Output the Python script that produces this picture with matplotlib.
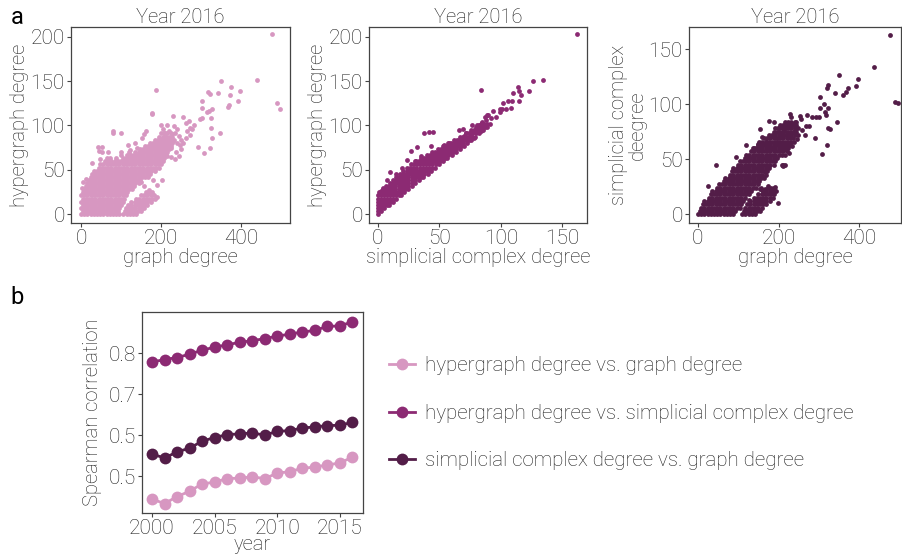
"""Degree comparison figure: three scatter panels (2016) + Spearman correlation over years."""

import matplotlib

matplotlib.use("Agg")

import matplotlib.pyplot as plt  # noqa: E402
from matplotlib.lines import Line2D  # noqa: E402

plt.rcParams["font.family"] = ["Roboto", "DejaVu Sans"]
plt.rcParams["font.weight"] = "light"

PINK = "#d797c1"
PLUM = "#8c2a73"
DARK = "#531d48"
GREY = "#444444"
TEXT = "#1e1e1e"

# ---- panel b data -------------------------------------------------------
years = list(range(2000, 2017))
rho_hyper_graph = [0.444, 0.433, 0.450, 0.463, 0.481, 0.485, 0.494, 0.495, 0.498, 0.494,
                   0.507, 0.511, 0.519, 0.522, 0.527, 0.532, 0.546]
rho_hyper_simp = [0.778, 0.784, 0.789, 0.797, 0.807, 0.814, 0.820, 0.826, 0.830, 0.835,
                  0.841, 0.846, 0.851, 0.855, 0.865, 0.866, 0.876]
rho_simp_graph = [0.554, 0.544, 0.559, 0.568, 0.585, 0.594, 0.601, 0.603, 0.605, 0.600,
                  0.609, 0.611, 0.617, 0.620, 0.623, 0.624, 0.631]
b_ticks = [0.5, 0.6, 0.7, 0.8]
b_ticklabels = ["0.5", "0.5", "0.7", "0.8"]

# ---- panel a, left: graph degree (x) vs hypergraph degree (y) ----------
hg_core_rows = [
    (0, [0, 8, 16, 24, 32, 40, 48, 56, 64, 72, 80, 88, 94]),
    (3.5, [4, 12, 20, 28, 36, 44, 52, 60, 68, 76, 84, 92]),
    (7, [0, 8, 16, 24, 32, 40, 48, 56, 64, 72, 80, 88, 96]),
    (10.5, [4, 12, 20, 28, 36, 44, 52, 60, 68, 76, 84, 92, 100]),
    (14, [0, 8, 16, 24, 32, 40, 48, 56, 64, 72, 80, 88, 96, 104]),
    (17.5, [4, 12, 20, 28, 36, 44, 52, 60, 68, 76, 84, 92, 100, 108]),
    (21, [0, 8, 16, 24, 32, 40, 48, 56, 64, 72, 80, 88, 96, 104, 112]),
    (24.5, [4, 12, 20, 28, 36, 44, 52, 60, 68, 76, 84, 92, 100, 108, 116]),
    (28, [8, 16, 24, 32, 40, 48, 56, 64, 72, 80, 88, 96, 104, 112, 120, 128]),
    (31.5, [12, 20, 28, 36, 44, 52, 60, 68, 76, 84, 92, 100, 108, 116, 124, 132]),
    (35, [16, 24, 32, 40, 48, 56, 64, 72, 80, 88, 96, 104, 112, 120, 128, 136, 144]),
    (38.5, [20, 28, 36, 44, 52, 60, 68, 76, 84, 92, 100, 108, 116, 124, 132, 140, 148]),
    (42, [24, 32, 40, 48, 56, 64, 72, 80, 88, 96, 104, 112, 120, 128, 136, 144, 152, 160]),
    (45.5, [28, 36, 44, 52, 60, 68, 76, 84, 92, 100, 108, 116, 124, 132, 140, 148, 156, 164, 172]),
    (49, [32, 40, 48, 56, 64, 72, 80, 88, 96, 104, 112, 120, 128, 136, 144, 152, 160, 168, 176, 184]),
    (52.5, [44, 52, 60, 68, 76, 84, 92, 100, 108, 116, 124, 132, 140, 148, 156, 164, 172, 180, 188, 196]),
    (56, [48, 56, 64, 72, 80, 88, 96, 104, 112, 120, 128, 136, 144, 152, 160, 168, 176, 184, 192, 200]),
    (59.5, [60, 68, 76, 84, 92, 100, 108, 116, 124, 132, 140, 148, 156, 164, 172, 180, 188, 196, 204]),
    (63, [72, 88, 104, 112, 120, 128, 136, 144, 152, 160, 168, 176, 184, 192, 200, 208]),
    (66.5, [100, 116, 124, 132, 140, 148, 156, 164, 172, 180, 188, 196, 204, 212]),
    (70, [120, 136, 144, 152, 160, 168, 176, 184, 192, 200, 208, 216]),
    (73.5, [148, 156, 164, 172, 180, 188, 196, 204, 212, 220]),
    (77, [160, 168, 176, 184, 192, 200, 208, 216, 224]),
    (80.5, [172, 180, 188, 196, 204, 212, 220, 228]),
    (84, [184, 192, 200, 208, 216, 224, 232]),
    (87.5, [196, 204, 212, 220, 228]),
    (91, [200, 208, 216, 224]),
    # lower cluster
    (0, [106, 114, 122, 130, 138]),
    (3.5, [110, 118, 126, 134, 142, 150]),
    (7, [112, 120, 128, 136, 144, 152, 158]),
    (10.5, [118, 126, 134, 142, 150, 158, 166]),
    (14, [126, 134, 142, 150, 158, 166, 174]),
    (17.5, [138, 146, 154, 162, 170, 178, 184]),
    (21, [150, 158, 166, 174, 182]),
    (24.5, [162, 170, 178]),
]
hg_extra = [
    (43, 76), (53, 76), (81, 91), (81, 94), (99, 92), (45, 71), (52, 70), (68, 70), (27, 58),
    (48, 62), (65, 63), (118, 78), (122, 72), (152, 86), (157, 90), (162, 94), (177, 113),
    (187, 140), (185, 79), (177, 77), (191, 19), (202, 39), (181, 39), (171, 27), (177, 23),
    (150, 36), (158, 32), (168, 42), (190, 33), (2, 30), (6, 36), (12, 40), (100, 70),
    (135, 80), (140, 74), (476, 203), (439, 151), (489, 125), (498, 118), (350, 150),
    (374, 143), (397, 139), (372, 134), (318, 138), (322, 136), (342, 137), (391, 128),
    (370, 123), (367, 121), (303, 127), (303, 120), (327, 118), (320, 116), (314, 115),
    (177, 114), (229, 111), (256, 109), (270, 105), (262, 103), (282, 101), (296, 107),
    (303, 108), (325, 108), (272, 97), (277, 96), (264, 94), (325, 97), (346, 91), (328, 86),
    (273, 89), (291, 76), (321, 75), (308, 69), (251, 73), (200, 100), (206, 96), (215, 100),
    (232, 99), (240, 96), (236, 92), (228, 90), (222, 86), (230, 82), (218, 80), (212, 76),
    (206, 72), (196, 78), (204, 84), (244, 88), (250, 84), (248, 78), (226, 74), (238, 70),
    (210, 92), (220, 94), (196, 70), (190, 66), (216, 66), (226, 64), (234, 62), (244, 66),
    (256, 80), (262, 86), (240, 80),
]

# ---- panel a, middle: simplicial degree (x) vs hypergraph degree (y) ----
hs_core_rows = [
    (0, [0]),
    (3.5, [0, 2.5]),
    (7, [0, 2.5, 5]),
    (10.5, [0, 2.5, 5, 7.5, 9]),
    (14, [0, 2.5, 5, 7.5, 10, 12.5]),
    (17.5, [0, 2.5, 5, 7.5, 10, 12.5, 15]),
    (21, [0, 2.5, 5, 7.5, 10, 12.5, 15, 17.5, 19]),
    (24.5, [1.5, 4, 6.5, 9, 11.5, 14, 16.5, 19, 21.5]),
    (28, [4.5, 7, 9.5, 12, 14.5, 17, 19.5, 22, 24.5]),
    (31.5, [7, 9.5, 12, 14.5, 17, 19.5, 22, 24.5, 27.5]),
    (35, [10, 12.5, 15, 17.5, 20, 22.5, 25, 27.5, 30.5]),
    (38.5, [12.5, 15, 17.5, 20, 22.5, 25, 27.5, 30, 33.5]),
    (42, [15, 17.5, 20, 22.5, 25, 27.5, 30, 32.5, 35, 37]),
    (45.5, [18, 20.5, 23, 25.5, 28, 30.5, 33, 35.5, 38, 40.5]),
    (49, [21, 23.5, 26, 28.5, 31, 33.5, 36, 38.5, 41, 43.5]),
    (52.5, [24, 26.5, 29, 31.5, 34, 36.5, 39, 41.5, 44, 46.5]),
    (56, [27, 29.5, 32, 34.5, 37, 39.5, 42, 44.5, 47, 49.5]),
    (59.5, [31, 33.5, 36, 38.5, 41, 43.5, 46, 48.5, 51, 53]),
    (63, [35, 37.5, 40, 42.5, 45, 47.5, 50, 52.5, 55, 56.5]),
    (66.5, [40, 42.5, 45, 47.5, 50, 52.5, 55, 57.5, 60]),
    (70, [44, 46.5, 49, 51.5, 54, 56.5, 59, 61.5, 63.5]),
    (73.5, [49, 51.5, 54, 56.5, 59, 61.5, 64, 66.5]),
    (77, [53, 55.5, 58, 60.5, 63, 65.5, 68, 70]),
    (80.5, [57, 59.5, 62, 64.5, 67, 69.5, 72.5]),
    (84, [62, 64.5, 67, 69.5, 72, 74.5, 76]),
    (87.5, [67, 69.5, 72, 74.5, 77, 79]),
    (91, [72, 74.5, 77, 79.5, 82]),
    (94.5, [76, 78.5, 81, 83.5, 85.5]),
    (98, [80, 82.5, 85, 87.5, 89]),
    (101.5, [84, 86.5, 89, 91.5]),
]
hs_extra = [
    (162, 203), (84, 140), (134, 151), (126, 150), (123, 139), (114, 143), (110, 137),
    (115, 139), (116, 134), (115, 128), (109, 127), (106, 127), (102, 125), (101, 119),
    (99, 118), (99, 115), (94, 116), (85, 104), (87, 110), (90, 112), (88, 106), (75, 90),
    (78, 86), (80, 96), (82, 100), (84, 94), (77, 100), (72, 92), (70, 88), (38, 92), (42, 93),
    (45, 93), (27, 71), (32, 76), (10, 47), (4, 29), (24, 61), (43, 77), (54, 78), (58, 80),
    (66, 95), (69, 96), (76, 89), (81, 101), (78, 93), (85, 103), (89, 112), (92, 108),
    (62, 80), (66, 84), (50, 70), (30, 60), (20, 52), (15, 45), (35, 66), (8, 38), (3, 26),
    (96, 110), (104, 118), (108, 120),
]

# ---- panel a, right: graph degree (x) vs simplicial degree (y) ---------
sg_core_rows = [
    (0, [0, 8, 16, 24, 32, 40, 48, 56, 64, 72, 80, 88]),
    (3, [4, 12, 20, 28, 36, 44, 52, 60, 68, 76, 84, 92]),
    (6, [8, 16, 24, 32, 40, 48, 56, 64, 72, 80, 88, 96, 104]),
    (9, [12, 20, 28, 36, 44, 52, 60, 68, 76, 84, 92, 100, 108]),
    (12, [16, 24, 32, 40, 48, 56, 64, 72, 80, 88, 96, 104, 112]),
    (15, [28, 36, 44, 52, 60, 68, 76, 84, 92, 100, 108, 116]),
    (18, [32, 40, 48, 56, 64, 72, 80, 88, 96, 104, 112, 120, 128]),
    (21, [36, 44, 52, 60, 68, 76, 84, 92, 100, 108, 116, 124, 132]),
    (24, [48, 56, 64, 72, 80, 88, 96, 104, 112, 120, 128, 136, 144]),
    (27, [52, 60, 68, 76, 84, 92, 100, 108, 116, 124, 132, 140, 148]),
    (30, [64, 72, 80, 88, 96, 104, 112, 120, 128, 136, 144, 152]),
    (33, [68, 76, 84, 92, 100, 108, 116, 124, 132, 140, 148, 156, 164]),
    (36, [80, 88, 96, 104, 112, 120, 128, 136, 144, 152, 160, 168]),
    (39, [84, 92, 100, 108, 116, 124, 132, 140, 148, 156, 164, 172]),
    (42, [88, 96, 104, 112, 120, 128, 136, 144, 152, 160, 168, 176]),
    (45, [100, 108, 116, 124, 132, 140, 148, 156, 164, 172, 180, 188]),
    (48, [104, 112, 120, 128, 136, 144, 152, 160, 168, 176, 184, 192]),
    (51, [116, 124, 132, 140, 148, 156, 164, 172, 180, 188, 196]),
    (54, [120, 128, 136, 144, 152, 160, 168, 176, 184, 192, 200, 208]),
    (57, [132, 140, 148, 156, 164, 172, 180, 188, 196, 204, 212, 220]),
    (60, [136, 144, 152, 160, 168, 176, 184, 192, 200, 208, 216, 224]),
    (63, [148, 156, 164, 172, 180, 188, 196, 204, 212, 220, 228]),
    (66, [152, 160, 168, 176, 184, 192, 200, 208, 216, 224, 232]),
    (69, [164, 172, 180, 188, 196, 204, 212, 220, 228, 236]),
    (72, [176, 184, 192, 200, 208, 216, 224, 232, 240]),
    (75, [188, 196, 204, 212, 220, 228, 236, 244]),
    (78, [192, 200, 208, 216, 224, 232, 240, 248]),
    (81, [204, 212, 220, 228, 236, 244]),
    (84, [216, 224, 232, 240]),
    # lower cluster
    (0, [110, 118, 126, 134, 142]),
    (3, [114, 122, 130, 138, 146, 154]),
    (6, [118, 126, 134, 142, 150, 158]),
    (9, [122, 130, 138, 146, 154, 162, 170]),
    (12, [130, 138, 146, 154, 162, 170, 178]),
    (15, [138, 146, 154, 162, 170, 178, 186]),
    (18, [150, 158, 166, 174, 182, 190]),
    (21, [162, 170, 178, 186, 194]),
    (24, [174, 182, 190]),
]
sg_extra = [
    (157, 24), (166, 23), (174, 26), (191, 25), (199, 10), (128, 13), (211, 45), (216, 45),
    (166, 38), (162, 34), (153, 23), (159, 22), (46, 45), (25, 26), (120, 63), (95, 52),
    (177, 85), (189, 84), (153, 77), (230, 88), (477, 163), (438, 134), (488, 102), (496, 101),
    (350, 126), (397, 123), (393, 116), (373, 115), (367, 111), (361, 108), (341, 110),
    (324, 117), (320, 115), (302, 106), (314, 100), (302, 96), (322, 96), (316, 93), (318, 90),
    (346, 84), (324, 78), (328, 77), (291, 69), (321, 63), (308, 55), (229, 91), (254, 89),
    (270, 90), (284, 88), (294, 88), (301, 88), (222, 80), (234, 82), (244, 84), (256, 86),
    (268, 80), (248, 72), (238, 66), (218, 62), (212, 58), (216, 54), (226, 56), (234, 62),
    (246, 68), (208, 45), (212, 44), (230, 74), (240, 76), (258, 76), (266, 72), (276, 80),
    (186, 60), (196, 66), (204, 70), (214, 76), (198, 78), (180, 70), (170, 66), (150, 64),
    (140, 60), (160, 70),
]


def collect(rows, extra):
    xs = [x for y, row in rows for x in row] + [p[0] for p in extra]
    ys = [y for y, row in rows for _ in row] + [p[1] for p in extra]
    return xs, ys


def style_axes(ax):
    for sp in ax.spines.values():
        sp.set_color(GREY)
        sp.set_linewidth(0.9)
    ax.tick_params(colors=GREY, labelcolor=TEXT, labelsize=15, length=3, width=0.8, pad=1.5)


LABEL_KW = dict(fontsize=14.5, fontweight="light", color=TEXT)

fig = plt.figure(figsize=(9.02, 5.6), dpi=100)

scatter_specs = [
    ([0.0787, 0.6018, 0.2428, 0.35], collect(hg_core_rows, hg_extra), PINK,
     "graph degree", "hypergraph degree", (-25, 522), (-10, 211), [0, 200, 400], [0, 50, 100, 150, 200]),
    ([0.4091, 0.6018, 0.2417, 0.35], collect(hs_core_rows, hs_extra), PLUM,
     "simplicial complex degree", "hypergraph degree", (-7, 170), (-10, 211), [0, 50, 100, 150], [0, 50, 100, 150, 200]),
    ([0.7639, 0.6018, 0.2350, 0.35], collect(sg_core_rows, sg_extra), DARK,
     "graph degree", "simplicial complex\ndeegree", (-22, 504), (-8, 170), [0, 200, 400], [0, 50, 100, 150]),
]
for rect, (xs, ys), color, xlab, ylab, xlim, ylim, xt, yt in scatter_specs:
    ax = fig.add_axes(rect)
    ax.scatter(xs, ys, s=12, color=color, linewidths=0)
    ax.set_xlim(*xlim)
    ax.set_ylim(*ylim)
    ax.set_xticks(xt)
    ax.set_yticks(yt)
    ax.set_xlabel(xlab, labelpad=0, **LABEL_KW)
    ax.set_ylabel(ylab, labelpad=1, linespacing=1.0, **LABEL_KW)
    ax.set_title("Year 2016", pad=2, **LABEL_KW)
    style_axes(ax)

# ---- panel b ------------------------------------------------------------
axb = fig.add_axes([0.1574, 0.0839, 0.245, 0.359])
series = [
    (rho_hyper_graph, PINK, "hypergraph degree vs. graph degree"),
    (rho_hyper_simp, PLUM, "hypergraph degree vs. simplicial complex degree"),
    (rho_simp_graph, DARK, "simplicial complex degree vs. graph degree"),
]
handles = []
for vals, color, label in series:
    axb.plot(years, vals, color=color, lw=2, marker="o", ms=8.5, mew=0)
    handles.append(Line2D([], [], color=color, lw=2, marker="o", ms=8.5, mew=0, label=label))
axb.set_xlim(1999.2, 2016.85)
axb.set_ylim(0.41, 0.90)
axb.set_xticks([2000, 2005, 2010, 2015])
axb.set_yticks(b_ticks)
axb.set_yticklabels(b_ticklabels)
axb.set_xlabel("year", labelpad=-2, **LABEL_KW)
axb.set_ylabel("Spearman correlation", labelpad=5, **LABEL_KW)
style_axes(axb)

fig.legend(handles=handles, loc="upper left", bbox_to_anchor=(0.411, 0.397), frameon=False,
           prop={"size": 14.8, "weight": "light"}, labelspacing=1.39, handlelength=1.25,
           handletextpad=0.5, labelcolor=TEXT)

fig.text(0.012, 0.99, "a", fontsize=17, fontweight="normal", va="top", ha="left")
fig.text(0.012, 0.49, "b", fontsize=17, fontweight="normal", va="top", ha="left")

fig.savefig("out.png", dpi=100)
